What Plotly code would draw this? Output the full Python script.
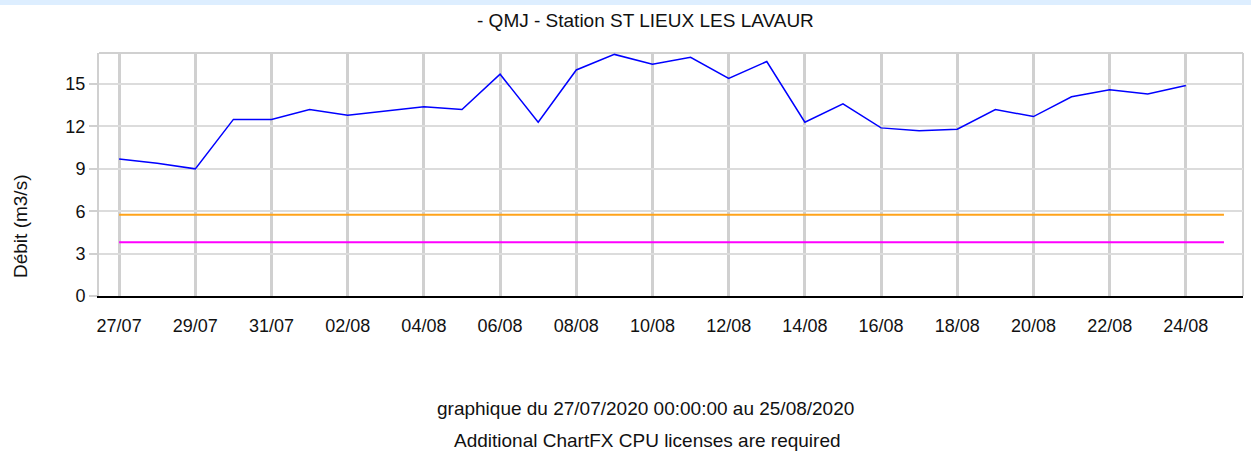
import plotly.graph_objects as go
import pandas as pd

# ---- data ----
dates = pd.date_range("2020-07-27", "2020-08-24", freq="D")
qmj = [9.7, 9.4, 9.0, 12.5, 12.5, 13.2, 12.8, 13.1, 13.4, 13.2,
       15.7, 12.3, 16.0, 17.1, 16.4, 16.9, 15.4, 16.6, 12.3, 13.6,
       11.9, 11.7, 11.8, 13.2, 12.7, 14.1, 14.6, 14.3, 14.9]
threshold_dates = ["2020-07-27", "2020-08-25"]
seuil_orange = [5.75, 5.75]
seuil_magenta = [3.8, 3.8]
y_ticks = [0, 3, 6, 9, 12, 15]
x_ticks = pd.date_range("2020-07-27", "2020-08-24", freq="2D")
x_ticklabels = [d.strftime("%d/%m") for d in x_ticks]

FONT = "Liberation Sans, Arial, sans-serif"
TXT = "#111111"

W, H = 1251, 451
L, R, T, B = 99, 8, 53, 155
PW, PH = W - L - R, H - T - B


def px(x):
    return (x - L) / PW


def py(y):
    return (H - B - y) / PH


fig = go.Figure()
fig.add_trace(go.Scatter(x=threshold_dates, y=seuil_orange, mode="lines",
                         line=dict(color="#ffa31a", width=2), showlegend=False))
fig.add_trace(go.Scatter(x=threshold_dates, y=seuil_magenta, mode="lines",
                         line=dict(color="#ff00ff", width=2), showlegend=False))
fig.add_trace(go.Scatter(x=dates, y=qmj, mode="lines",
                         line=dict(color="#0000ff", width=1.5), showlegend=False))

fig.update_layout(
    width=W, height=H,
    margin=dict(l=L, r=R, t=T, b=B),
    paper_bgcolor="white", plot_bgcolor="white",
    font=dict(family=FONT, size=18, color=TXT),
    xaxis=dict(
        type="date",
        range=["2020-07-26 11:20", "2020-08-25 12:00"],
        tickvals=list(x_ticks), ticktext=x_ticklabels,
        showgrid=True, gridcolor="#d0d0d0", gridwidth=3,
        showline=True, linecolor="#000000", linewidth=2,
        ticks="", ticklabelstandoff=12,
        tickfont=dict(size=18),
        zeroline=False, fixedrange=True,
    ),
    yaxis=dict(
        range=[0, 17.2],
        tickvals=y_ticks,
        showgrid=True, gridcolor="#dcdcdc", gridwidth=2,
        showline=True, linecolor="#d0d0d0", linewidth=2,
        ticks="outside", ticklen=8, tickwidth=2, tickcolor="#d0d0d0",
        tickfont=dict(size=18),
        zeroline=False, fixedrange=True,
    ),
    shapes=[
        dict(type="line", xref="paper", yref="paper", x0=0, x1=1, y0=1, y1=1,
             line=dict(color="#d0d0d0", width=2), layer="below"),
        dict(type="line", xref="paper", yref="paper", x0=1, x1=1, y0=0, y1=1,
             line=dict(color="#d0d0d0", width=2), layer="below"),
        dict(type="rect", xref="paper", yref="paper", x0=px(0), x1=px(W),
             y0=py(5), y1=py(0),
             fillcolor="#ddeeff", line=dict(width=0), layer="below"),
    ],
    annotations=[
        dict(text="- QMJ - Station ST LIEUX LES LAVAUR", xref="paper", yref="paper",
             x=px(645), y=py(21), xanchor="center", yanchor="middle",
             showarrow=False, font=dict(size=19)),
        dict(text="Débit (m3/s)", xref="paper", yref="paper",
             x=px(20), y=py(227), xanchor="center", yanchor="middle",
             textangle=-90, showarrow=False, font=dict(size=19)),
        dict(text="graphique du 27/07/2020 00:00:00 au 25/08/2020", xref="paper", yref="paper",
             x=px(645), y=py(408), xanchor="center", yanchor="middle",
             showarrow=False, font=dict(size=19)),
        dict(text="Additional ChartFX CPU licenses are required", xref="paper", yref="paper",
             x=px(647), y=py(440), xanchor="center", yanchor="middle",
             showarrow=False, font=dict(size=19)),
    ],
)

fig.write_html("out.html", config={"displayModeBar": False},
               post_script="document.body.style.margin='0px';document.body.style.overflow='hidden';")
